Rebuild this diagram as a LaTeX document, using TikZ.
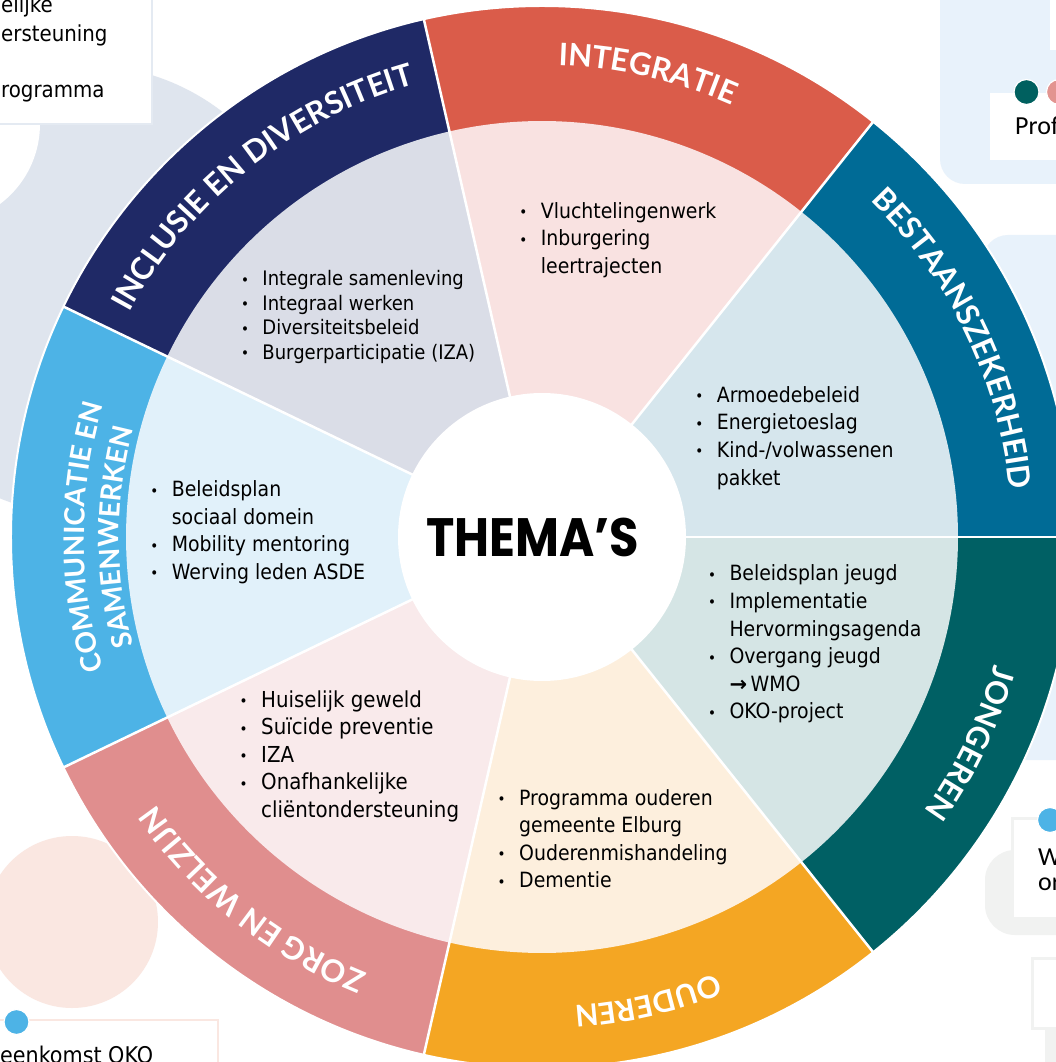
\documentclass[tikz,border=0pt]{standalone}
\usepackage{fontspec}
\setmainfont{DejaVu Sans Condensed}
\newfontfamily\ringfont{Lato}
\newfontfamily\themafont{Poppins}
\newfontfamily\calfont{Carlito}
\newfontfamily\arrowfont{DejaVu Sans}
\usetikzlibrary{decorations.text}
\definecolor{cBes}{HTML}{006B96}
\definecolor{lBes}{HTML}{D6E6ED}
\definecolor{cInt}{HTML}{DA5C4A}
\definecolor{lInt}{HTML}{F9E2E1}
\definecolor{cInc}{HTML}{1F2966}
\definecolor{lInc}{HTML}{DADDE7}
\definecolor{cCom}{HTML}{4DB3E6}
\definecolor{lCom}{HTML}{E1F1FA}
\definecolor{cZor}{HTML}{E08E8E}
\definecolor{lZor}{HTML}{F9EAEB}
\definecolor{cOud}{HTML}{F4A623}
\definecolor{lOud}{HTML}{FDEFDD}
\definecolor{cJon}{HTML}{006064}
\definecolor{lJon}{HTML}{D5E5E5}
\definecolor{bgGray}{HTML}{DFE5EE}
\definecolor{bgBlue}{HTML}{E8F2FB}
\definecolor{bgPeach}{HTML}{FAE7E1}
\definecolor{bgLight}{HTML}{F1F2F1}
\definecolor{boxLine}{HTML}{E4EAF2}
\definecolor{dotBlue}{HTML}{4DB3E6}
\definecolor{dotTeal}{HTML}{00605F}
\definecolor{dotPink}{HTML}{E29490}
\newcommand{\bul}{\makebox[0pt][r]{\raisebox{0.6pt}{\fontsize{15}{15}\selectfont •}\hspace{13.5pt}}}
\newcommand{\ringsector}[4]{%
  \fill[#3] (0,0) -- (#1:531) arc[start angle=#1, end angle=#2, radius=531] -- cycle;
  \fill[#4] (0,0) -- (#1:416) arc[start angle=#1, end angle=#2, radius=416] -- cycle;}
\newcommand{\ringlabel}[5]{%
  \path[decorate, decoration={text along path, text align=center, text color=white,
    text={|\ringfont\bfseries\fontsize{#4}{#4}\selectfont|#5}}]
    (#1:#3) arc[start angle=#1, end angle=#2, radius=#3];}
\tikzset{
  listnode/.style={anchor=base west, inner sep=0pt, font=\fontsize{21}{27.6}\selectfont},
  bgtext/.style={anchor=base west, inner sep=0pt, font=\fontsize{22}{22}\selectfont},
  caltext/.style={anchor=base west, inner sep=0pt, font=\calfont\fontsize{26}{26}\selectfont},
  dividerline/.style={white, line width=2.5pt},
  dotstyle/.style={draw=white, line width=1.2pt}
}
\begin{document}
\begin{tikzpicture}[x=1pt,y=1pt]
\useasboundingbox (-542,-525) rectangle (514,537);
\clip (-542,-525) rectangle (514,537);
\fill[white] (-542,-525) rectangle (514,537);
% ---------- background (page coordinates) ----------
\begin{scope}[shift={(-542,537)}, yscale=-1]
  \fill[bgGray] (85,290) circle[radius=225];
  \fill[white] (-60,124) circle[radius=100];
  \draw[boxLine, line width=2pt, fill=white] (-20,-20) rectangle (152,124);
  \node[bgtext] (tl1) at (1,12.5) {elijke};
  \node[bgtext] (tl2) at (1,41.7) {ersteuning};
  \node[bgtext] (tl3) at (1,98) {rogramma};
  % top right
  \fill[bgBlue, rounded corners=25pt] (940,-30) rectangle (1090,184);
  \fill[white] (1050,-10) rectangle (1070,50);
  \fill[bgBlue, rounded corners=25pt] (983,235) rectangle (1090,760);
  \fill[white] (990,93) rectangle (1070,160);
  \node[caltext] (prof) at (1015,135) {Prof};
  \filldraw[dotstyle, fill=dotTeal] (1026.5,92) circle[radius=12.5];
  \filldraw[dotstyle, fill=dotPink] (1059,92) circle[radius=12.5];
  % bottom right
  \fill[bgLight, rounded corners=30pt] (985,850) rectangle (1090,935);
  \draw[bgLight, line width=3pt, fill=white] (1012,818) rectangle (1080,918);
  \node[caltext] (w1) at (1038,865) {W};
  \node[caltext] (w2) at (1038,890) {or};
  \filldraw[dotstyle, fill=dotBlue] (1050,820) circle[radius=12.5];
  \fill[bgLight] (1045,1020) rectangle (1080,1080);
  \draw[bgLight, line width=3pt, fill=white] (1032,958) rectangle (1080,1028);
  % bottom left
  \fill[bgPeach] (72,922) circle[radius=86];
  \draw[bgPeach, line width=2pt, fill=white] (-20,1020) rectangle (218,1090);
  \node[bgtext, font=\fontsize{23}{23}\selectfont] (bl1) at (0,1063) {eenkomst OKO};
  \filldraw[dotstyle, fill=dotBlue] (16.5,1022) circle[radius=12.5];
\end{scope}
% ---------- wheel (centre coordinates) ----------
\ringsector{0}{51.4286}{cBes}{lBes}
\ringsector{51.4286}{102.8571}{cInt}{lInt}
\ringsector{102.8571}{154.2857}{cInc}{lInc}
\ringsector{154.2857}{205.7143}{cCom}{lCom}
\ringsector{205.7143}{257.1429}{cZor}{lZor}
\ringsector{257.1429}{308.5714}{cOud}{lOud}
\ringsector{308.5714}{360}{cJon}{lJon}
\foreach \a in {0,51.4286,102.8571,154.2857,205.7143,257.1429,308.5714}
  \draw[dividerline] (0,0) -- (\a:531);
\draw[white, line width=2pt] (0,0) circle[radius=531];
\fill[white] (0,0) circle[radius=144];
\node[font=\themafont\bfseries\fontsize{54}{54}\selectfont] (thema) at (-9,0) {\scalebox{0.886}[1]{THEMA’S}};
% ring labels
\ringlabel{51.4286}{0}{470}{31}{BESTAANSZEKERHEID}
\ringlabel{102.8571}{51.4286}{472}{31}{INTEGRATIE}
\ringlabel{154.2857}{102.8571}{470}{31}{INCLUSIE EN DIVERSITEIT}
\ringlabel{205.7143}{154.2857}{458}{28}{COMMUNICATIE EN}
\ringlabel{205.7143}{154.2857}{423}{28}{SAMENWERKEN}
\ringlabel{257.1429}{205.7143}{470}{31}{ZORG EN WELZIJN}
\ringlabel{308.5714}{257.1429}{470}{30}{OUDEREN}
\ringlabel{360}{308.5714}{470}{31}{JONGEREN}
% ---------- lists (page coordinates) ----------
\begin{scope}[shift={(-542,537)}, yscale=-1]
  \node[listnode, font=\fontsize{20}{24.4}\selectfont] (inc) at (262.3,286) {\begin{tabular}[t]{@{}l@{}}\bul Integrale samenleving\\ \bul Integraal werken\\ \bul Diversiteitsbeleid\\ \bul Burgerparticipatie (IZA)\end{tabular}};
  \node[listnode] (int) at (540.7,218.3) {\begin{tabular}[t]{@{}l@{}}\bul Vluchtelingenwerk\\ \bul Inburgering\\ leertrajecten\end{tabular}};
  \node[listnode] (bes) at (716.7,402.3) {\begin{tabular}[t]{@{}l@{}}\bul Armoedebeleid\\ \bul Energietoeslag\\ \bul Kind-/volwassenen\\ pakket\end{tabular}};
  \node[listnode] (jon) at (729.3,581) {\begin{tabular}[t]{@{}l@{}}\bul Beleidsplan jeugd\\ \bul Implementatie\\ Hervormingsagenda\\ \bul Overgang jeugd\\ {\arrowfont\bfseries\fontsize{21}{21}\selectfont →}\,WMO\\ \bul OKO-project\end{tabular}};
  \node[listnode] (oud) at (519,805) {\begin{tabular}[t]{@{}l@{}}\bul Programma ouderen\\ gemeente Elburg\\ \bul Ouderenmishandeling\\ \bul Dementie\end{tabular}};
  \node[listnode, font=\fontsize{22}{27.6}\selectfont] (zor) at (261,707) {\begin{tabular}[t]{@{}l@{}}\bul Huiselijk geweld\\ \bul Suïcide preventie\\ \bul IZA\\ \bul Onafhankelijke\\ cliëntondersteuning\end{tabular}};
  \node[listnode] (com) at (171.7,496.7) {\begin{tabular}[t]{@{}l@{}}\bul Beleidsplan\\ sociaal domein\\ \bul Mobility mentoring\\ \bul Werving leden ASDE\end{tabular}};
\end{scope}
\end{tikzpicture}
\end{document}
